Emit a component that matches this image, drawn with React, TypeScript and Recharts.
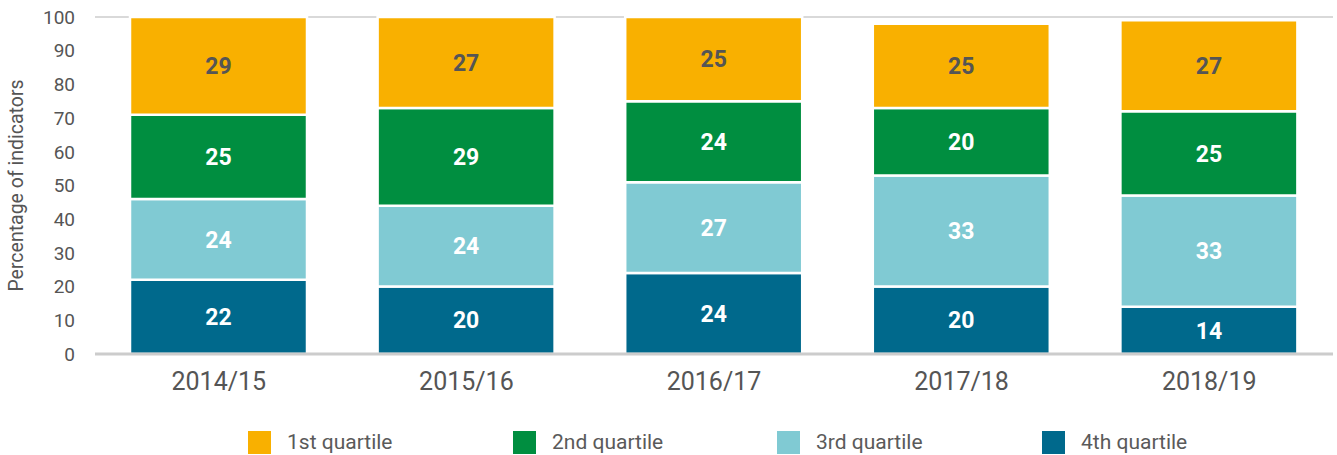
import React from 'react';
import { BarChart, Bar, XAxis, YAxis, CartesianGrid, LabelList } from 'recharts';

const categories = ['2014/15', '2015/16', '2016/17', '2017/18', '2018/19'];
const q1 = [29, 27, 25, 25, 27];
const q2 = [25, 29, 24, 20, 25];
const q3 = [24, 24, 27, 33, 33];
const q4 = [22, 20, 24, 20, 14];
const yTicks = [0, 10, 20, 30, 40, 50, 60, 70, 80, 90, 100];
const gridValues = [0, 20, 40, 60, 80, 100];

const seriesNames = ['1st quartile', '2nd quartile', '3rd quartile', '4th quartile'];
const colors = ['#F9B000', '#008E40', '#80CAD3', '#00698C'];

const data = categories.map((c, i) => ({ name: c, q1: q1[i], q2: q2[i], q3: q3[i], q4: q4[i] }));

const FONT = 'Roboto, sans-serif';

const LegendBlock = () => {
  const lefts = [248, 513, 777, 1042];
  return (
    <div style={{ position: 'absolute', left: 0, top: 431, width: 1337, height: 23 }}>
      {seriesNames.map((n, i) => (
        <div key={n} style={{ position: 'absolute', left: lefts[i], top: 0, display: 'flex', alignItems: 'center', height: 23 }}>
          <div style={{ width: 23, height: 23, background: colors[i] }} />
          <span style={{ marginLeft: 16, fontSize: 21, lineHeight: '23px', color: '#5a5a5a', fontFamily: FONT, whiteSpace: 'nowrap' }}>{n}</span>
        </div>
      ))}
    </div>
  );
};

export default function App() {
  const keys = ['q4', 'q3', 'q2', 'q1'];
  const cols = [colors[3], colors[2], colors[1], colors[0]];
  const labelCols = ['#fff', '#fff', '#fff', '#555'];
  return (
    <div style={{ position: 'absolute', left: 0, top: 0, width: 1337, height: 455, fontFamily: FONT }}>
      <BarChart width={1337} height={455} data={data} margin={{ top: 17, right: 4, left: 0, bottom: 51 }} barSize={177}>
        <CartesianGrid horizontal vertical={false} stroke="#cccccc" strokeWidth={1.5} yAxisId="grid" />
        <XAxis
          dataKey="name"
          axisLine={{ stroke: '#cccccc', strokeWidth: 3 }}
          tickLine={false}
          tick={{ fontSize: 25, fill: '#555', fontFamily: FONT }}
          tickMargin={12}
          height={50}
        />
        <YAxis
          domain={[0, 100]}
          ticks={yTicks}
          axisLine={false}
          tickLine={false}
          tickSize={0}
          tickMargin={20}
          width={95}
          interval={0}
          tick={{ fontSize: 19, fill: '#555', fontFamily: FONT }}
          label={{ value: 'Percentage of indicators', angle: -90, position: 'insideLeft', offset: 16, style: { textAnchor: 'middle', fontSize: 19.5, fill: '#555', fontFamily: FONT } }}
        />
        <YAxis yAxisId="grid" domain={[0, 100]} ticks={gridValues} hide />
        {keys.map((k, i) => (
          <Bar key={k} dataKey={k} stackId="a" fill={cols[i]} stroke="#ffffff" strokeWidth={2.5} isAnimationActive={false} name={seriesNames[3 - i]}>
            <LabelList dataKey={k} position="center" style={{ fontSize: 23, fontWeight: 700, fill: labelCols[i], fontFamily: FONT }} />
          </Bar>
        ))}
      </BarChart>
      <LegendBlock />
    </div>
  );
}
